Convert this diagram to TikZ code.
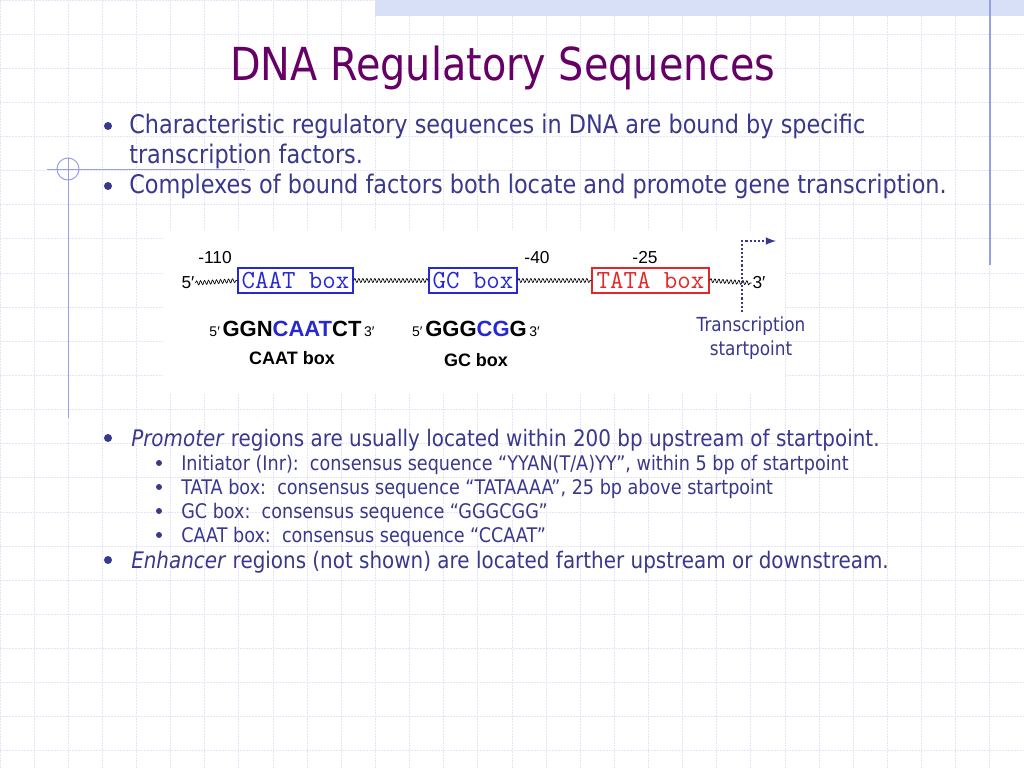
\documentclass[tikz,border=0pt]{standalone}
\usepackage{fontspec}
\setmainfont[FakeStretch=0.874]{DejaVu Sans}
\newfontfamily\arialfont{Liberation Sans}
\usetikzlibrary{decorations.pathmorphing}
\definecolor{slidetitle}{RGB}{102,0,102}
\definecolor{slidetext}{RGB}{56,56,140}
\definecolor{gridlav}{RGB}{228,228,246}
\definecolor{bandblue}{RGB}{216,224,247}
\definecolor{rulelav}{RGB}{150,160,230}
\definecolor{boxblue}{RGB}{40,40,210}
\definecolor{boxred}{RGB}{225,40,40}
\begin{document}
\begin{tikzpicture}[x=0.75pt,y=-0.75pt,
  body/.style={anchor=base west,inner sep=0pt,text=slidetext,font=\fontsize{19.2}{23}\selectfont},
  lower/.style={body,font=\fontsize{17.1}{20}\selectfont},
  sub/.style={body,font=\fontsize{15.1}{18}\selectfont},
  num/.style={inner sep=0pt,font=\arialfont\fontsize{13}{15}\selectfont},
  endlabel/.style={inner sep=0.5pt,font=\arialfont\fontsize{13}{15}\selectfont},
  seqbox/.style={draw,line width=0.9pt,inner sep=0pt,minimum height=18.75pt,font=\ttfamily\fontsize{19.6}{20}\selectfont},
  seqline/.style={anchor=base,inner sep=0pt,font=\arialfont},
  seqlabel/.style={inner sep=0pt,font=\arialfont\bfseries\fontsize{13.5}{15}\selectfont},
  wavy/.style={decorate,decoration={snake,segment length=3pt,amplitude=1.5pt},line width=0.5pt},
  startarrow/.style={draw=slidetext,line width=1.6pt,dash pattern=on 1.6pt off 1.5pt,-latex}]
\useasboundingbox (0,0) rectangle (1024,768);
\fill[white] (0,0) rectangle (1024,768);
\draw[gridlav,line width=0.75pt,dash pattern=on 1.5pt off 0.75pt,step=25.6pt] (0,768) grid (1024,0);
\fill[bandblue] (375,0) rectangle (1024,16);
\draw[rulelav,line width=1.1pt] (990,0) -- (990,265);
\draw[rulelav,line width=0.75pt] (47,169) -- (245,169);
\draw[rulelav,line width=0.75pt] (68,158) -- (68,418);
\draw[rulelav,line width=0.75pt] (68,169) circle[radius=8.25pt];

\node[anchor=base,inner sep=0pt,text=slidetitle,font=\fontsize{34.1}{40}\selectfont] (title) at (503,80) {DNA Regulatory Sequences};
\fill[slidetext] (108,126) circle[radius=3pt];
\node[body] (l1) at (129,133) {Characteristic regulatory sequences in DNA are bound by specific};
\node[body] (l2) at (129,163) {transcription factors.};
\fill[slidetext] (108,186) circle[radius=3pt];
\node[body] (l3) at (129,193) {Complexes of bound factors both locate and promote gene transcription.};

\fill[white] (163,230) rectangle (785,393);
\node[num] (m110) at (215,258) {-110};
\node[num] (m40) at (537,258) {-40};
\node[num] (m25) at (645,258) {-25};
\node[endlabel] (five) at (188,283) {5′};
\node[seqbox,draw=boxblue,text=boxblue,minimum width=86.25pt] (caat) at (295.5,280.5) {CAAT box};
\node[seqbox,draw=boxblue,text=boxblue,minimum width=66pt] (gc) at (473,280.5) {GC box};
\node[seqbox,draw=boxred,text=boxred,minimum width=87.75pt] (tata) at (650.5,280.5) {TATA box};
\node[endlabel] (three) at (759,283) {3′};
\draw[wavy] (five.east) -- (caat.west);
\draw[wavy] (caat.east) -- (gc.west);
\draw[wavy] (gc.east) -- (tata.west);
\draw[wavy] (tata.east) -- (three.west);
\coordinate (startfoot) at (742,312);
\coordinate (starttip) at (776,241);
\draw[startarrow] (startfoot) |- (starttip);
\node[align=center,inner sep=0pt,text=slidetext,font=\fontsize{14.5}{18}\selectfont] (startlbl) at (751,338) {Transcription\\startpoint};

\node[seqline] (caatseq) at (292,336) {{\fontsize{10.5}{12}\selectfont 5′}\hspace{2pt}{\bfseries\fontsize{16.5}{18}\selectfont GGN\textcolor{boxblue}{CAAT}CT}\hspace{2pt}{\fontsize{10.5}{12}\selectfont 3′}};
\node[seqline] (gcseq) at (476,336) {{\fontsize{10.5}{12}\selectfont 5′}\hspace{2pt}{\bfseries\fontsize{16.5}{18}\selectfont GGG\textcolor{boxblue}{CG}G}\hspace{2pt}{\fontsize{10.5}{12}\selectfont 3′}};
\node[seqlabel] (caatlbl) at (292,358) {CAAT box};
\node[seqlabel] (gclbl) at (476,360) {GC box};

\fill[slidetext] (108,438) circle[radius=3pt];
\node[lower] (p1) at (131,446) {\textit{Promoter} regions are usually located within 200 bp upstream of startpoint.};
\fill[slidetext] (159,463) circle[radius=2.25pt];
\node[sub] (s1) at (181,470) {Initiator (Inr):\ \ consensus sequence “YYAN(T/A)YY”, within 5 bp of startpoint};
\fill[slidetext] (159,487) circle[radius=2.25pt];
\node[sub] (s2) at (181,494) {TATA box:\ \ consensus sequence “TATAAAA”, 25 bp above startpoint};
\fill[slidetext] (159,511) circle[radius=2.25pt];
\node[sub] (s3) at (181,518) {GC box:\ \ consensus sequence “GGGCGG”};
\fill[slidetext] (159,535) circle[radius=2.25pt];
\node[sub] (s4) at (181,542) {CAAT box:\ \ consensus sequence “CCAAT”};
\fill[slidetext] (108,560) circle[radius=3pt];
\node[lower] (e1) at (131,568) {\textit{Enhancer} regions (not shown) are located farther upstream or downstream.};
\end{tikzpicture}
\end{document}
